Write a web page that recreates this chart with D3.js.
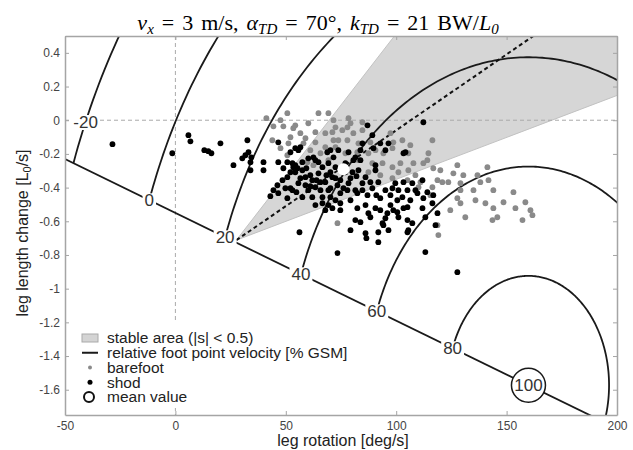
<!DOCTYPE html>
<html>
<head>
<meta charset="utf-8">
<title>leg rotation vs leg length change</title>
<script src="https://cdn.jsdelivr.net/npm/d3@7"></script>
<style>
  body { margin: 0; background: #fff; }
  svg { display: block; font-family: Arial, "Liberation Sans", Helvetica, sans-serif; }
</style>
</head>
<body>
<svg id="chart" width="633" height="450"></svg>
<script>
// axis ticks
var xTicks = [-50, 0, 50, 100, 150, 200];
var yTicks = [0.4, 0.2, 0, -0.2, -0.4, -0.6, -0.8, -1, -1.2, -1.4, -1.6];

// relative foot point velocity contours [% GSM]
var gsmLevels = [-20, 0, 20, 40, 60, 80];
var gsmCenter = [159.9, -1.573];     // 100 % GSM
var gsmStep = [36.5, 0.649];         // semi axes per 20 %
var labelLineSlope = -0.006395;      // line that carries the labels
var minus20LabelAt = -0.01;          // -20 label sits on its contour

// stable area (|s| < 0.5)
var stableApex = [27.6, -0.712];
var stableSlopes = [0.01693, 0.004983];
var dashedSlope = 0.009011;

// [leg rotation deg/s, leg length change L0/s]
var barefoot = [
  [41.2,0.012],[47.6,0.000],[50.7,0.042],[44.4,-0.036],[48.9,-0.036],[53.4,-0.047],[43.9,-0.119],
  [54.3,-0.030],[60.2,-0.018],[64.8,0.042],[69.3,0.042],[71.6,0.000],[52.1,-0.101],[56.6,-0.077],
  [58.9,-0.107],[63.4,-0.131],[67.9,-0.160],[58.0,-0.137],[47.6,-0.166],[50.7,-0.208],[61.1,-0.178],
  [65.7,-0.196],[71.6,-0.119],[67.9,-0.077],[63.4,-0.071],[72.5,-0.042],[59.8,-0.249],[62.5,-0.267],
  [51.2,-0.137],[77.9,-0.042],[78.4,0.012],[71.1,-0.071],[75.6,-0.059],[80.6,-0.077],[84.7,-0.059],
  [77.9,-0.119],[82.9,-0.137],[88.3,-0.131],[72.5,-0.160],[77.0,-0.196],[82.4,-0.190],[87.4,-0.196],
  [90.6,-0.178],[94.2,-0.196],[98.3,-0.166],[89.2,-0.255],[93.8,-0.255],[98.3,-0.279],[101.9,-0.255],
  [106.4,-0.148],[114.6,-0.196],[114.1,-0.237],[116.4,-0.119],[112.3,-0.255],[101.0,-0.309],
  [105.5,-0.297],[108.7,-0.326],[105.1,-0.356],[116.8,-0.285],[111.0,-0.368],[120.9,-0.368],
  [116.4,-0.398],[69.3,-0.237],[82.9,-0.237],[87.4,-0.309],[92.8,-0.326],[98.3,-0.344],[79.3,-0.018],
  [73.8,-0.119],[105.5,-0.196],[107.8,-0.255],[120.0,-0.297],[127.7,-0.267],[125.9,-0.315],
  [129.1,-0.374],[123.6,-0.368],[130.4,-0.326],[136.8,-0.326],[141.3,-0.279],[141.8,-0.356],
  [138.1,-0.368],[135.0,-0.415],[129.1,-0.415],[115.5,-0.445],[127.7,-0.463],[129.1,-0.493],
  [124.5,-0.534],[135.9,-0.475],[140.4,-0.493],[144.0,-0.415],[148.6,-0.487],[153.1,-0.427],
  [158.5,-0.487],[160.8,-0.534],[154.0,-0.522],[144.0,-0.522],[145.8,-0.576],[143.6,-0.593],
  [157.2,-0.593],[161.7,-0.564],[131.3,-0.576],[118.7,-0.356],[97.4,-0.077],[98.7,-0.131],
  [102.8,-0.119],[73.4,-0.611],[118.7,-0.623],[119.1,-0.682],[110.1,-0.398],[84.7,-0.012]
];
var shod = [
  [-28.5,-0.142],[-1.4,-0.196],[5.9,-0.089],[6.8,-0.125],[13.1,-0.178],[14.9,-0.184],[16.3,-0.196],
  [20.4,-0.137],[26.3,-0.267],[32.6,-0.119],[31.7,-0.208],[33.1,-0.190],[34.4,-0.220],[34.0,-0.249],
  [30.3,-0.226],[34.0,-0.297],[39.9,-0.249],[39.9,-0.297],[44.4,-0.415],[43.0,-0.451],[46.2,-0.386],
  [46.6,-0.131],[46.6,-0.249],[50.7,-0.249],[53.0,-0.255],[52.1,-0.190],[54.3,-0.166],[55.7,-0.178],
  [48.9,-0.285],[52.1,-0.309],[54.3,-0.267],[55.3,-0.285],[60.2,-0.226],[62.5,-0.220],[54.3,-0.309],
  [57.5,-0.297],[58.9,-0.338],[55.7,-0.374],[62.0,-0.356],[63.4,-0.398],[64.8,-0.315],[67.9,-0.368],
  [71.1,-0.338],[70.2,-0.404],[72.5,-0.279],[60.2,-0.415],[53.0,-0.415],[57.5,-0.457],[66.6,-0.457],
  [70.2,-0.457],[73.4,-0.386],[48.5,-0.356],[50.7,-0.338],[53.4,-0.279],[63.4,-0.237],[66.6,-0.279],
  [56.6,-0.160],[57.5,-0.249],[64.8,-0.249],[68.8,-0.190],[71.6,-0.220],[78.4,-0.190],[81.5,-0.220],
  [83.8,-0.178],[87.0,-0.030],[89.2,-0.089],[112.3,-0.012],[96.5,-0.137],[104.2,-0.190],[84.7,-0.137],
  [89.7,-0.166],[92.8,-0.137],[95.1,-0.178],[69.3,-0.255],[70.2,-0.309],[72.5,-0.344],[74.7,-0.433],
  [78.4,-0.374],[81.5,-0.415],[82.9,-0.297],[86.1,-0.338],[84.7,-0.374],[89.2,-0.404],[91.9,-0.368],
  [95.1,-0.415],[97.4,-0.445],[87.0,-0.445],[80.2,-0.309],[77.0,-0.255],[90.6,-0.297],[99.6,-0.374],
  [103.3,-0.368],[107.3,-0.374],[111.9,-0.356],[105.1,-0.415],[108.7,-0.415],[114.1,-0.427],
  [116.8,-0.445],[102.8,-0.457],[90.6,-0.267],[80.6,-0.237],[73.8,-0.178],[70.2,-0.178],[52.1,-0.404],
  [58.9,-0.386],[62.0,-0.457],[69.3,-0.415],[69.3,-0.504],[71.1,-0.522],[74.7,-0.534],[72.5,-0.475],
  [77.9,-0.415],[79.3,-0.475],[82.4,-0.433],[92.8,-0.463],[100.5,-0.475],[109.6,-0.433],[112.3,-0.463],
  [116.4,-0.493],[118.7,-0.552],[103.3,-0.522],[100.5,-0.546],[96.0,-0.552],[87.4,-0.552],[82.4,-0.522],
  [81.5,-0.593],[83.8,-0.605],[88.3,-0.576],[94.2,-0.623],[96.5,-0.653],[91.9,-0.665],[79.3,-0.653],
  [86.1,-0.671],[86.5,-0.700],[91.9,-0.724],[105.1,-0.593],[105.5,-0.653],[107.3,-0.611],[113.2,-0.783],
  [73.4,-0.789],[56.2,-0.665],[66.6,-0.493],[50.7,-0.463],[93.8,-0.611],[105.1,-0.665],[117.8,-0.623],
  [127.7,-0.902],[103.3,-0.196],[98.7,-0.534],[105.1,-0.516],[111.9,-0.522],[113.2,-0.576],
  [95.1,-0.582],[101.0,-0.576],[92.8,-0.534],
  [56.6,-0.344],[59.3,-0.285],[61.1,-0.326],[63.9,-0.356],[65.7,-0.415],[68.4,-0.326],[74.7,-0.356],
  [76.1,-0.404],[79.3,-0.344],[82.0,-0.332],[84.7,-0.415],[88.3,-0.368],[91.0,-0.445],[98.3,-0.404],
  [101.0,-0.415],[77.0,-0.309],[65.7,-0.368],[61.1,-0.392],[54.8,-0.427],[49.8,-0.404],[46.6,-0.433],
  [74.7,-0.493],[86.1,-0.504],[90.6,-0.522],[97.4,-0.504],[106.4,-0.475],[67.9,-0.534],[63.4,-0.504],
  [83.8,-0.237]
];
var meanValue = [76.1, -0.291];

var legendItems = ["stable area (|s| < 0.5)", "relative foot point velocity [% GSM]", "barefoot", "shod", "mean value"];

var svg = d3.select("#chart");
var plotLeft = 65, plotRight = 617, plotTop = 36, plotBottom = 415;

var x = d3.scaleLinear().domain([-50, 200]).range([plotLeft, plotRight]);
var y = d3.scaleLinear().domain([-1.75, 0.5]).range([plotBottom, plotTop]);
var line = d3.line().x(function(d) { return x(d[0]); }).y(function(d) { return y(d[1]); });

svg.append("clipPath").attr("id", "plotclip")
  .append("rect").attr("x", plotLeft).attr("y", plotTop)
  .attr("width", plotRight - plotLeft).attr("height", plotBottom - plotTop);

var plot = svg.append("g").attr("clip-path", "url(#plotclip)");

// stable wedge
var far = 400;
plot.append("path")
  .attr("d", line([stableApex,
    [stableApex[0] + far, stableApex[1] + far * stableSlopes[0]],
    [stableApex[0] + far, stableApex[1] + far * stableSlopes[1]]]) + "Z")
  .attr("fill", "#d6d6d6").attr("stroke", "#c2c2c2").attr("stroke-width", 1);

// zero grid lines
plot.append("line").attr("x1", x(0)).attr("x2", x(0)).attr("y1", plotTop).attr("y2", plotBottom)
  .attr("stroke", "#aaa").attr("stroke-dasharray", "4,3");
plot.append("line").attr("x1", plotLeft).attr("x2", plotRight).attr("y1", y(0)).attr("y2", y(0))
  .attr("stroke", "#aaa").attr("stroke-dasharray", "4,3");

// contours
var cx = gsmCenter[0], cy = gsmCenter[1], rx = gsmStep[0], ry = gsmStep[1], m = labelLineSlope;
var uPerStep = 1 / Math.sqrt(1 / (rx * rx) + m * m / (ry * ry));
var labelPos = [];
gsmLevels.forEach(function(level) {
  var k = (100 - level) / 20;
  var u = -k * uPerStep;
  var t0 = Math.atan2(m * u / (ry * k), u / (rx * k));
  var pts = d3.range(0, 241).map(function(i) {
    var t = t0 - Math.PI * i / 240;
    return [cx + rx * k * Math.cos(t), cy + ry * k * Math.sin(t)];
  });
  plot.append("path").attr("d", line(pts))
    .attr("fill", "none").attr("stroke", "#1a1a1a").attr("stroke-width", 1.8);
  if (level === -20) {
    var dv = (minus20LabelAt - cy) / (ry * k);
    labelPos.push({ level: level, p: [cx - rx * k * Math.sqrt(1 - dv * dv), minus20LabelAt] });
  } else {
    labelPos.push({ level: level, p: [cx + u, cy + m * u] });
  }
});
plot.append("path")
  .attr("d", line([[-50, cy + m * (-50 - cx)], [260, cy + m * (260 - cx)]]))
  .attr("fill", "none").attr("stroke", "#1a1a1a").attr("stroke-width", 1.8);

// dashed centre of stable area
plot.append("path")
  .attr("d", line([stableApex, [stableApex[0] + far, stableApex[1] + far * dashedSlope]]))
  .attr("fill", "none").attr("stroke", "#111").attr("stroke-width", 2).attr("stroke-dasharray", "4,3");

// data points
plot.append("g").selectAll("circle").data(barefoot).enter().append("circle")
  .attr("cx", function(d) { return x(d[0]); }).attr("cy", function(d) { return y(d[1]); })
  .attr("r", 2.9).attr("fill", "#8a8a8a");
plot.append("g").selectAll("circle").data(shod).enter().append("circle")
  .attr("cx", function(d) { return x(d[0]); }).attr("cy", function(d) { return y(d[1]); })
  .attr("r", 2.9).attr("fill", "#000");
plot.append("circle").attr("cx", x(meanValue[0])).attr("cy", y(meanValue[1]))
  .attr("r", 6).attr("fill", "#fff");

// contour labels
var labels = plot.append("g").attr("font-size", 17).attr("fill", "#333");
labelPos.forEach(function(lp) {
  var g = labels.append("g");
  var bg = g.append("rect").attr("fill", "#fff");
  var t = g.append("text").attr("x", x(lp.p[0])).attr("y", y(lp.p[1])).attr("dy", "0.36em")
    .attr("text-anchor", "middle").text(lp.level);
  var b = t.node().getBBox();
  bg.attr("x", b.x - 2).attr("y", b.y + 2).attr("width", b.width + 4).attr("height", b.height - 4);
});
var g100 = labels.append("g");
g100.append("circle").attr("cx", x(cx)).attr("cy", y(cy)).attr("r", 17)
  .attr("fill", "#fff").attr("stroke", "#1a1a1a").attr("stroke-width", 1.5);
g100.append("text").attr("x", x(cx)).attr("y", y(cy)).attr("dy", "0.36em")
  .attr("text-anchor", "middle").text(100);

// legend
var legend = svg.append("g");
legend.append("rect").attr("x", 70).attr("y", 322).attr("width", 240).attr("height", 86).attr("fill", "#fff");
var ly = d3.scaleLinear().domain([0, 4]).range([338, 397]);
legend.append("rect").attr("x", 82).attr("y", ly(0) - 4).attr("width", 16).attr("height", 8)
  .attr("fill", "#d4d4d4").attr("stroke", "#aaa");
legend.append("line").attr("x1", 82).attr("x2", 98).attr("y1", ly(1)).attr("y2", ly(1))
  .attr("stroke", "#1a1a1a").attr("stroke-width", 2);
legend.append("circle").attr("cx", 90).attr("cy", ly(2)).attr("r", 2).attr("fill", "#8a8a8a");
legend.append("circle").attr("cx", 90).attr("cy", ly(3)).attr("r", 2.5).attr("fill", "#000");
legend.append("circle").attr("cx", 89).attr("cy", ly(4)).attr("r", 5)
  .attr("fill", "#fff").attr("stroke", "#111").attr("stroke-width", 2);
legend.selectAll("text").data(legendItems).enter().append("text")
  .attr("x", 107).attr("y", function(d, i) { return ly(i); }).attr("dy", "0.35em")
  .attr("font-size", 15.5).attr("fill", "#222").text(function(d) { return d; });

// axes
var axisColor = "#a5a5a5";
function styleAxis(g) {
  g.selectAll(".domain").attr("stroke", axisColor).attr("stroke-width", 1.5);
  g.selectAll(".tick line").attr("stroke", axisColor);
  g.selectAll(".tick text").attr("fill", "#444").attr("font-size", 12)
    .attr("font-family", "Arial, 'Liberation Sans', sans-serif");
}
svg.append("g").attr("transform", "translate(0," + plotBottom + ")")
  .call(d3.axisBottom(x).tickValues(xTicks).tickSizeInner(-4).tickSizeOuter(0).tickPadding(6)
    .tickFormat(function(d) { return String(d); })).call(styleAxis);
svg.append("g").attr("transform", "translate(0," + plotTop + ")")
  .call(d3.axisTop(x).tickValues(xTicks).tickSizeInner(-4).tickSizeOuter(0).tickFormat("")).call(styleAxis);
svg.append("g").attr("transform", "translate(" + plotLeft + ",0)")
  .call(d3.axisLeft(y).tickValues(yTicks).tickSizeInner(-4).tickSizeOuter(0).tickPadding(5)
    .tickFormat(function(d) { return String(+d.toFixed(1)); })).call(styleAxis);
svg.append("g").attr("transform", "translate(" + plotRight + ",0)")
  .call(d3.axisRight(y).tickValues(yTicks).tickSizeInner(-4).tickSizeOuter(0).tickFormat("")).call(styleAxis);

// axis titles
svg.append("text").attr("x", 343).attr("y", 446).attr("text-anchor", "middle")
  .attr("font-size", 16).attr("fill", "#222").text("leg rotation [deg/s]");
var yl = svg.append("text").attr("transform", "translate(28,233) rotate(-90)").attr("text-anchor", "middle")
  .attr("font-size", 16).attr("fill", "#222");
yl.append("tspan").text("leg length change [L");
yl.append("tspan").attr("font-size", 11).attr("dy", 3).text("0");
yl.append("tspan").attr("dy", -3).text("/s]");

// title
var title = svg.append("text").attr("x", 318).attr("y", 30).attr("text-anchor", "middle")
  .attr("font-family", "'Times New Roman', 'Liberation Serif', serif").attr("font-size", 22)
  .attr("word-spacing", 2.5).attr("fill", "#000");
function part(txt, italic, sub) {
  var s = title.append("tspan").text(txt);
  if (italic) s.attr("font-style", "italic");
  if (sub) s.attr("font-size", 15).attr("dy", 4);
  return s;
}
part("v", true); part("x", true, true);
part(" = 3 m/s, ").attr("dy", -4);
part("\u03b1", true); part("TD", true, true);
part(" = 70\u00b0, ").attr("dy", -4);
part("k", true); part("TD", true, true);
part(" = 21 BW/").attr("dy", -4);
part("L", true); part("0", true, true);
</script>
</body>
</html>
